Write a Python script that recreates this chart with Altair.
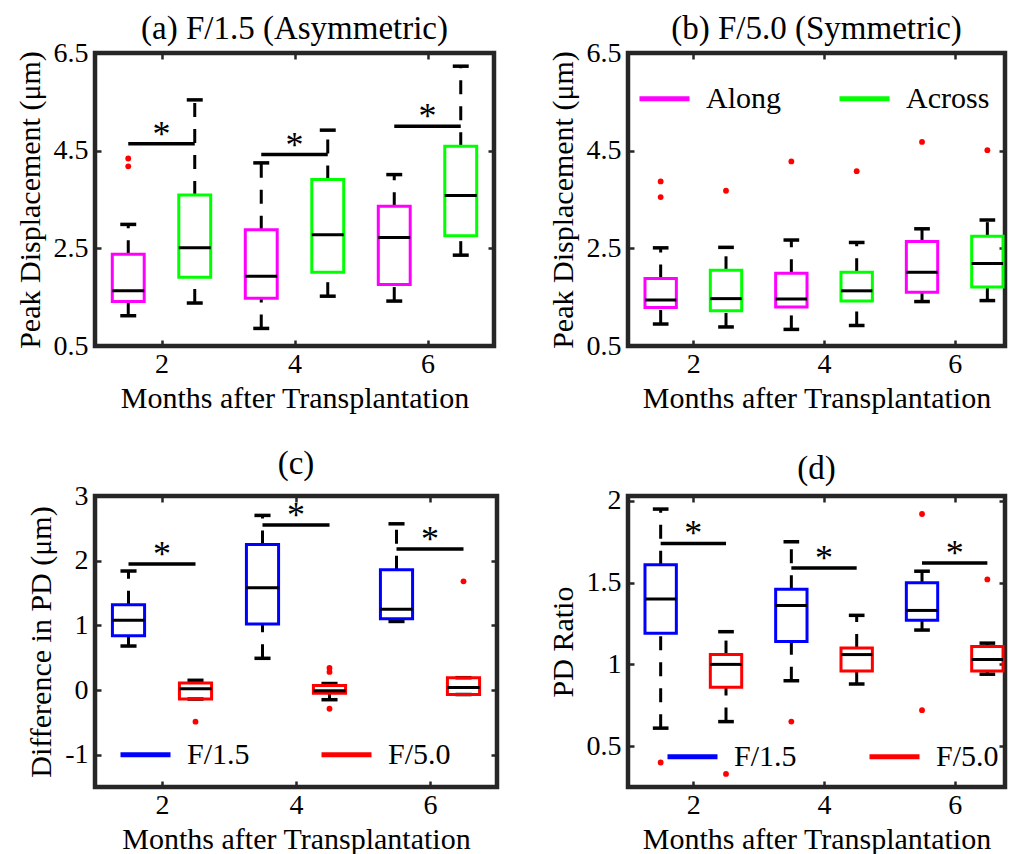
import altair as alt
import pandas as pd

FONT = "Liberation Serif"
FRAME = "#262626"

months = [2, 4, 6]

# ---------------- (a) F/1.5 (Asymmetric) ----------------
a_names = ["Along", "Across"]
a_colors = ["#ff00ff", "#00ff00"]
a_along = {"lo": [1.12, 0.86, 1.42], "q1": [1.41, 1.48, 1.76], "med": [1.63, 1.93, 2.72],
           "q3": [2.38, 2.88, 3.36], "hi": [2.99, 4.25, 4.01]}
a_across = {"lo": [1.38, 1.52, 2.36], "q1": [1.91, 2.01, 2.76], "med": [2.51, 2.78, 3.58],
            "q3": [3.59, 3.91, 4.59], "hi": [5.54, 4.92, 6.23]}
a_out_along = [[4.34, 4.18], [], []]
a_out_across = [[], [], []]
a_sig = [4.64, 4.42, 5.00]

# ---------------- (b) F/5.0 (Symmetric) ----------------
b_along = {"lo": [0.95, 0.84, 1.41], "q1": [1.29, 1.30, 1.60], "med": [1.44, 1.46, 2.01],
           "q3": [1.88, 1.99, 2.64], "hi": [2.51, 2.67, 2.90]}
b_across = {"lo": [0.89, 0.92, 1.43], "q1": [1.22, 1.42, 1.71], "med": [1.47, 1.63, 2.19],
            "q3": [2.05, 2.01, 2.75], "hi": [2.52, 2.62, 3.08]}
b_out_along = [[3.87, 3.55], [4.28], [4.68]]
b_out_across = [[3.68], [4.08], [4.51]]
b_sig = []

# ---------------- (c) Difference in PD ----------------
cd_names = ["F/1.5", "F/5.0"]
cd_colors = ["#0000ff", "#ff0000"]
c_f15 = {"lo": [0.68, 0.49, 1.06], "q1": [0.84, 1.02, 1.10], "med": [1.08, 1.58, 1.25],
         "q3": [1.32, 2.25, 1.86], "hi": [1.84, 2.70, 2.57]}
c_f50 = {"lo": [-0.14, -0.15, -0.07], "q1": [-0.14, -0.05, -0.07], "med": [0.02, -0.01, 0.04],
         "q3": [0.11, 0.07, 0.19], "hi": [0.15, 0.10, 0.19]}
c_out_f15 = [[], [], []]
c_out_f50 = [[-0.49], [0.34, 0.28, -0.29], [1.68]]
c_sig = [1.95, 2.55, 2.18]

# ---------------- (d) PD Ratio ----------------
d_f15 = {"lo": [0.61, 0.90, 1.21], "q1": [1.19, 1.14, 1.27], "med": [1.40, 1.36, 1.33],
         "q3": [1.61, 1.46, 1.50], "hi": [1.95, 1.75, 1.57]}
d_f50 = {"lo": [0.65, 0.88, 0.94], "q1": [0.86, 0.96, 0.96], "med": [1.00, 1.06, 1.03],
         "q3": [1.06, 1.10, 1.11], "hi": [1.20, 1.30, 1.13]}
d_out_f15 = [[0.40], [0.65], [1.92, 0.72]]
d_out_f50 = [[0.33], [], [1.52]]
d_sig = [1.74, 1.59, 1.62]


def box_table(names, stats):
    rows = []
    for k, (name, st) in enumerate(zip(names, stats)):
        for i, m in enumerate(months):
            rows.append(dict(series=name, order=k, month=m, lo=st["lo"][i], q1=st["q1"][i],
                             med=st["med"][i], q3=st["q3"][i], hi=st["hi"][i]))
    return pd.DataFrame(rows)


def out_table(names, outs):
    rows = []
    for k, (name, o) in enumerate(zip(names, outs)):
        for i, m in enumerate(months):
            for v in o[i]:
                rows.append(dict(series=name, order=k, month=m, value=v))
    return pd.DataFrame(rows, columns=["series", "order", "month", "value"])


POS = "datum.month + datum.order - 0.5"


def panel(title, toff, ytitle, names, colors, stats, outs, sig, xdom, ydom, yvals,
          width, height, legend):
    xsc = alt.Scale(domain=xdom, nice=False, zero=False)
    ysc = alt.Scale(domain=ydom, nice=False, zero=False)
    lab = "'' + datum.value"
    x_bottom = alt.Axis(values=[2, 4, 6], labelExpr=lab, title="Months after Transplantation",
                        orient="bottom", offset=-6, tickSize=6, labelPadding=4, titlePadding=5,
                        labelFlush=False)
    y_left = alt.Axis(values=yvals, labelExpr=lab, title=ytitle, orient="left", offset=-6,
                      tickSize=6, labelPadding=7, titlePadding=8, labelFlush=False)
    x_top = alt.Axis(values=[2, 4, 6], orient="top", labels=False, title=None, offset=-6, tickSize=6)
    y_right = alt.Axis(values=yvals, orient="right", labels=False, title=None, offset=-6, tickSize=6)

    base = alt.Chart(box_table(names, stats)).transform_calculate(
        pos=POS,
        bl=POS + " - 0.24",
        br=POS + " + 0.24",
        cl=POS + " - 0.12",
        cr=POS + " + 0.12",
    )
    whisk_lo = base.mark_rule(color="black", strokeWidth=3, strokeDash=[14, 12]).encode(
        x=alt.X("pos:Q", scale=xsc, axis=None), y=alt.Y("lo:Q", scale=ysc, axis=None), y2="q1:Q")
    whisk_hi = base.mark_rule(color="black", strokeWidth=3, strokeDash=[14, 12]).encode(
        x=alt.X("pos:Q", scale=xsc, axis=None), y=alt.Y("q3:Q", scale=ysc, axis=None), y2="hi:Q")
    cap_lo = base.mark_rule(color="black", strokeWidth=3.5).encode(
        x=alt.X("cl:Q", scale=xsc, axis=None), x2="cr:Q", y=alt.Y("lo:Q", scale=ysc, axis=None))
    cap_hi = base.mark_rule(color="black", strokeWidth=3.5).encode(
        x=alt.X("cl:Q", scale=xsc, axis=None), x2="cr:Q", y=alt.Y("hi:Q", scale=ysc, axis=None))
    rect = base.mark_rect(fill="white", fillOpacity=0, strokeWidth=3).encode(
        x=alt.X("bl:Q", scale=xsc, axis=x_bottom), x2="br:Q",
        y=alt.Y("q1:Q", scale=ysc, axis=y_left), y2="q3:Q",
        stroke=alt.Stroke("series:N", scale=alt.Scale(domain=names, range=colors), legend=legend),
    )
    median = base.mark_rule(color="black", strokeWidth=3).encode(
        x=alt.X("bl:Q", scale=xsc, axis=x_top), x2="br:Q",
        y=alt.Y("med:Q", scale=ysc, axis=y_right))
    outliers = alt.Chart(out_table(names, outs)).transform_calculate(pos=POS).mark_point(
        filled=True, color="#ff0000", size=34, opacity=1, shape="circle").encode(
        x=alt.X("pos:Q", scale=xsc, axis=None), y=alt.Y("value:Q", scale=ysc, axis=None))
    layers = [whisk_lo, whisk_hi, cap_lo, cap_hi, rect, median, outliers]
    if sig:
        sdf = pd.DataFrame({"month": months, "y": sig})
        sbase = alt.Chart(sdf).transform_calculate(s="datum.month - 0.5", e="datum.month + 0.5")
        bars = sbase.mark_rule(color="black", strokeWidth=3.5).encode(
            x=alt.X("s:Q", scale=xsc, axis=None), x2="e:Q", y=alt.Y("y:Q", scale=ysc, axis=None))
        stars = sbase.mark_text(text="*", font=FONT, fontSize=36, color="black",
                                baseline="alphabetic", dy=2).encode(
            x=alt.X("month:Q", scale=xsc, axis=None), y=alt.Y("y:Q", scale=ysc, axis=None))
        layers += [bars, stars]
    return alt.layer(*layers).resolve_axis(x="independent", y="independent").properties(
        title=alt.TitleParams(title, offset=toff), width=width, height=height)


def make_legend(lx, ly, colpad):
    return alt.Legend(orient="none", legendX=lx, legendY=ly, direction="horizontal", columns=2,
                      title=None, symbolType="stroke", symbolSize=2500, symbolStrokeWidth=5,
                      labelFont=FONT, labelFontSize=30, labelColor="black", labelOffset=14,
                      columnPadding=colpad, padding=0, symbolOpacity=1)


pa = panel("(a) F/1.5 (Asymmetric)", -7, "Peak Displacement (μm)", a_names, a_colors,
           [a_along, a_across], [a_out_along, a_out_across], a_sig, [1, 7],
           [0.5, 6.5], [0.5, 2.5, 4.5, 6.5], 399, 293, None)
pb = panel("(b) F/5.0 (Symmetric)", -7, "Peak Displacement (μm)", a_names, a_colors,
           [b_along, b_across], [b_out_along, b_out_across], b_sig, [1, 6.77],
           [0.5, 6.5], [0.5, 2.5, 4.5, 6.5], 377, 293, make_legend(9, 18, 48))
pc = panel("(c)", 1, "Difference in PD (μm)", cd_names, cd_colors,
           [c_f15, c_f50], [c_out_f15, c_out_f50], c_sig, [1, 7],
           [-1.5, 3], [-1, 0, 1, 2, 3], 402, 291, make_legend(23, 231, 61))
pd_ = panel("(d)", 1, "PD Ratio", cd_names, cd_colors,
            [d_f15, d_f50], [d_out_f15, d_out_f50], d_sig, [1, 6.77],
            [0.25, 2.03], [0.5, 1, 1.5, 2], 377, 291, make_legend(37, 233, 62))

chart = alt.concat(pa, pb, pc, pd_, columns=2, spacing={"row": 150, "column": 131},
                   bounds="flush", align="all").resolve_scale(stroke="independent").properties(
    padding={"left": 4, "top": 2, "right": 0, "bottom": 0}
).configure_view(stroke=FRAME, strokeWidth=4.5).configure_axis(
    labelFont=FONT, titleFont=FONT, labelFontSize=28, titleFontSize=30, labelColor="black",
    titleColor="black", titleFontWeight="normal", tickColor=FRAME, tickWidth=2.5,
    grid=False, domain=False
).configure_title(font=FONT, fontSize=33, fontWeight="normal", color="black")

chart.save("out.html", embed_options={"renderer": "svg", "actions": False})
